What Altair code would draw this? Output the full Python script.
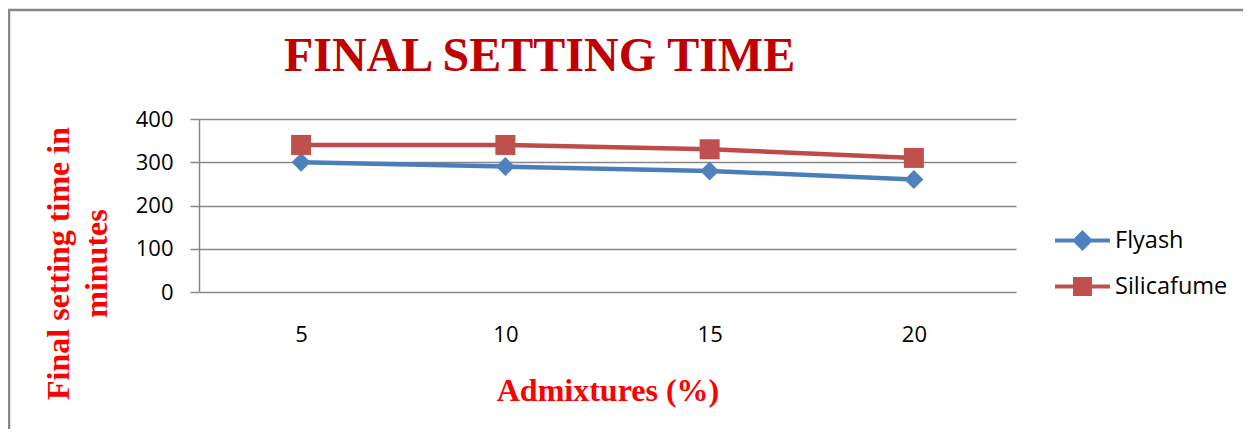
import altair as alt
import pandas as pd

# ---- data ----
admixtures = ["5", "10", "15", "20"]
flyash = [300, 290, 280, 260]
silicafume = [340, 340, 330, 310]
series_names = ["Flyash", "Silicafume"]
y_ticks = [0, 100, 200, 300, 400]

line_colors = ["#4A7EBB", "#BE4B48"]
marker_colors = ["#4F81BD", "#C0504D"]

rows = []
for name, vals in zip(series_names, [flyash, silicafume]):
    for a, v in zip(admixtures, vals):
        rows.append({"admix": a, "series": name, "value": v})
df = pd.DataFrame(rows)

# legend glyphs: short line with marker in the middle (unit square paths)
legend_paths = [
    "M-1,-0.075L1,-0.075L1,0.075L-1,0.075Z M0,-0.38L0.38,0L0,0.38L-0.38,0Z",
    "M-1,-0.075L1,-0.075L1,0.075L-1,0.075Z M-0.345,-0.345L0.345,-0.345L0.345,0.345L-0.345,0.345Z",
]

GRID = "#878787"

x_enc = alt.X(
    "admix:N",
    sort=admixtures,
    scale=alt.Scale(type="point", padding=0.5),
    axis=alt.Axis(
        title="Admixtures (%)",
        labelAngle=0,
        ticks=False,
        domain=False,
        grid=False,
        labelFont="Open Sans",
        labelFontSize=22,
        labelColor="black",
        labelPadding=32,
        titleFont="Liberation Serif",
        titleFontSize=32,
        titleFontWeight="bold",
        titleColor="#FF0000",
        titleBaseline="alphabetic",
        titleY=108,
    ),
)
y_enc = alt.Y(
    "value:Q",
    scale=alt.Scale(domain=[0, 400], nice=False),
    axis=alt.Axis(
        values=y_ticks,
        title=["Final setting time in", "minutes"],
        grid=True,
        gridColor=GRID,
        gridWidth=1.5,
        domainColor=GRID,
        domainWidth=1.5,
        tickColor=GRID,
        tickWidth=1.5,
        tickSize=9,
        labelFont="Open Sans",
        labelFontSize=22,
        labelColor="black",
        labelPadding=17,
        titleFont="Liberation Serif",
        titleFontSize=32,
        titleFontWeight="bold",
        titleColor="#FF0000",
        titleAngle=270,
        titleAlign="center",
        titleBaseline="alphabetic",
        titleLineHeight=38,
        titleX=-131,
        titleY=144,
    ),
)

base = alt.Chart(df)

# data-driven domains here (so these hidden legends do not merge with the visible one)
lines = base.mark_line(strokeWidth=4.5).encode(
    x=x_enc,
    y=y_enc,
    stroke=alt.Stroke("series:N", scale=alt.Scale(range=line_colors), legend=None),
)

fill_scale = alt.Scale(range=marker_colors)
pts_fly = base.transform_filter(alt.datum.series == "Flyash").mark_point(
    shape="diamond", filled=True, size=361, opacity=1, strokeWidth=0
).encode(x=x_enc, y=y_enc, fill=alt.Fill("series:N", scale=fill_scale, legend=None))
pts_sil = base.transform_filter(alt.datum.series == "Silicafume").mark_point(
    shape="square", filled=True, size=400, opacity=1, strokeWidth=0
).encode(x=x_enc, y=y_enc, fill=alt.Fill("series:N", scale=fill_scale, legend=None))

legend_def = dict(
    orient="none",
    legendX=856,
    legendY=94,
    title=None,
    padding=0,
    symbolSize=3025,
    symbolStrokeWidth=0,
    symbolOpacity=1,
    labelFont="Open Sans",
    labelFontSize=23.5,
    labelColor="black",
    labelOffset=5,
    rowPadding=7,
)
# zero-size points: only carry the legend (line + marker glyphs)
legend_layer = base.mark_point(filled=True, size=0, strokeWidth=0, opacity=1).encode(
    x=x_enc,
    y=y_enc,
    color=alt.Color("series:N", scale=alt.Scale(domain=series_names, range=marker_colors),
                    legend=alt.Legend(**legend_def)),
    shape=alt.Shape("series:N", scale=alt.Scale(domain=series_names, range=legend_paths),
                    legend=alt.Legend(**legend_def)),
)

frame_left = alt.Chart(alt.Data(values=[{}])).mark_rule(color=GRID, strokeWidth=2.5).encode(
    x=alt.value(-190), y=alt.value(-109), y2=alt.value(310)
)
frame_top = alt.Chart(alt.Data(values=[{}])).mark_rule(color=GRID, strokeWidth=2.5).encode(
    x=alt.value(-191), x2=alt.value(1044), y=alt.value(-109)
)

chart = (
    alt.layer(frame_left, frame_top, lines, pts_fly, pts_sil, legend_layer)
    .properties(
        width=817,
        height=173,
        title=alt.TitleParams(
            "FINAL SETTING TIME",
            font="Liberation Serif",
            fontSize=48,
            fontWeight="bold",
            color="#C00000",
            anchor="middle",
            frame="group",
            dx=-68,
            offset=-110,
            baseline="alphabetic",
        ),
        padding={"left": 191, "top": 111, "right": 227, "bottom": 137},
        autosize=alt.AutoSizeParams(type="none"),
        background="white",
    )
    .configure_view(stroke=None)
)

chart.save("out.html", embed_options={"renderer": "svg", "actions": False})
